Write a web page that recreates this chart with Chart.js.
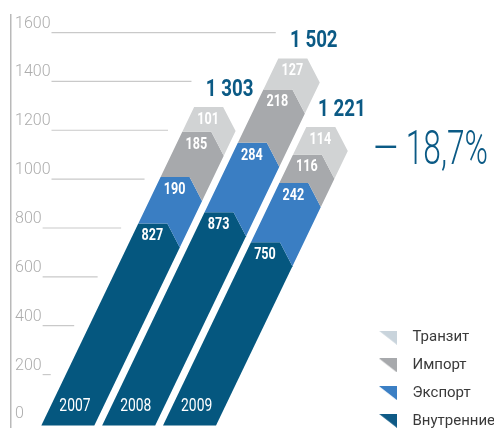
<!DOCTYPE html>
<html lang="ru">
<head>
<meta charset="UTF-8">
<title>Грузооборот 2007–2009</title>
<script src="https://cdn.jsdelivr.net/npm/chart.js"></script>
<style>
  html, body { margin: 0; padding: 0; background: #fff; overflow: hidden; }
  #wrap { width: 494px; height: 441px; }
</style>
</head>
<body>
<div id="wrap"><canvas id="chart"></canvas></div>
<script>
// данные
const years = [2007, 2008, 2009];
const domestic = [827, 873, 750];
const exportVals = [190, 284, 242];
const importVals = [185, 218, 116];
const transit = [101, 127, 114];
const totals = [1303, 1502, 1221];
const yTicks = [0, 200, 400, 600, 800, 1000, 1200, 1400, 1600];
const change = '— 18,7%';

const FONT = 'Roboto, sans-serif';
const SLANT = 0.48;   // наклон лент
const NOTCH = 24;     // глубина уголка сверху справа
Chart.defaults.font.family = FONT;

// треугольник для легенды, справа прозрачный запас
function tri(color) {
    const c = document.createElement('canvas');
    c.width = 33; c.height = 14;
    const g = c.getContext('2d');
    g.fillStyle = color;
    g.beginPath();
    g.moveTo(0, 0); g.lineTo(18, 0); g.lineTo(18, 14); g.closePath();
    g.fill();
    return c;
}

const fmt = v => String(v).replace(/\B(?=(\d{3})+(?!\d))/g, ' ');

// сжатый по ширине текст (узкого шрифта нет)
function narrow(ctx, s, x, y, font, sx) {
    ctx.save();
    ctx.translate(x, y);
    ctx.scale(sx, 1);
    ctx.font = font;
    ctx.fillText(s, 0, 0);
    ctx.restore();
}

const ribbons = {
    id: 'ribbons',
    beforeDatasetsDraw(chart) {
        const { ctx, scales: { y } } = chart;
        const y0 = y.getPixelForValue(0);
        const sk = (px, py) => [px + SLANT * (y0 - py), py];
        const first = chart.getDatasetMeta(0).data;
        const last = chart.getDatasetMeta(chart.data.datasets.length - 1).data;
        const topTick = yTicks[yTicks.length - 1];

        ctx.save();

        // подчёркивания у подписей оси (у нуля нет)
        ctx.font = '300 16px ' + FONT;
        ctx.strokeStyle = '#c9c9c9';
        ctx.lineWidth = 1.2;
        const lx = chart.chartArea.left + 4;
        yTicks.forEach(v => {
            if (v <= 0) return;
            const py = y.getPixelForValue(v) - 2;
            const ref = v === topTick ? first[1] : first[0];
            const end = sk(ref.x - ref.width / 2, py)[0] - 15;
            const start = lx + ctx.measureText(String(v)).width + 1;
            if (end <= start) return;
            ctx.beginPath();
            ctx.moveTo(start, py); ctx.lineTo(end, py);
            ctx.stroke();
        });

        // ленты
        chart.data.datasets.forEach((ds, i) => {
            chart.getDatasetMeta(i).data.forEach(bar => {
                const { x, y: top, base, width } = bar.getProps(['x', 'y', 'base', 'width'], true);
                const l = x - width / 2, r = x + width / 2;
                const pts = [[l, top], [r - NOTCH, top], [r, top + NOTCH]];
                if (i === 0) pts.push([r, base], [l, base]);
                else pts.push([r, base + NOTCH], [r - NOTCH, base], [l, base]);
                ctx.beginPath();
                pts.map(p => sk(p[0], p[1])).forEach(([px, py], k) => k ? ctx.lineTo(px, py) : ctx.moveTo(px, py));
                ctx.closePath();
                ctx.fillStyle = ds.backgroundColor;
                ctx.fill();
            });
        });

        // значения сегментов
        ctx.fillStyle = '#fff';
        ctx.textAlign = 'center';
        ctx.textBaseline = 'middle';
        chart.data.datasets.forEach((ds, i) => {
            chart.getDatasetMeta(i).data.forEach((bar, j) => {
                const l = bar.x - bar.width / 2;
                const yl = bar.y + 12.5;
                narrow(ctx, String(ds.data[j]), l + SLANT * (y0 - yl) + 20, yl, 'bold 17px ' + FONT, 0.74);
            });
        });

        // годы внизу лент
        first.forEach((bar, j) => {
            const yl = y0 - 19;
            narrow(ctx, String(years[j]), bar.x + SLANT * (y0 - yl) - 2, yl, '18px ' + FONT, 0.77);
        });

        // итоги над лентами
        ctx.fillStyle = '#0b5a85';
        last.forEach((bar, j) => {
            const l = bar.x - bar.width / 2;
            const fl = l + SLANT * (y0 - bar.y);
            narrow(ctx, fmt(totals[j]), fl + (bar.width - NOTCH) / 2 + 21, bar.y - 17, 'bold 24px ' + FONT, 0.78);
        });

        // изменение
        const b = last[last.length - 1];
        ctx.textAlign = 'right';
        ctx.textBaseline = 'alphabetic';
        narrow(ctx, change, chart.width - 6, b.y + 37, '300 48px ' + FONT, 0.66);

        ctx.restore();
        return false;
    }
};

const ds = (label, data, color, legendColor) => ({
    label, data,
    backgroundColor: color,
    pointStyle: tri(legendColor),
    barThickness: 53
});

new Chart(document.getElementById('chart'), {
    type: 'bar',
    data: {
        labels: years,
        datasets: [
            ds('Внутренние', domestic, '#05577f', '#0e5a86'),
            ds('Экспорт', exportVals, '#3a7ec3', '#3b7fc4'),
            ds('Импорт', importVals, '#a7a9ac', '#a7a9ac'),
            ds('Транзит', transit, '#d1d3d4', '#c9d4dc')
        ]
    },
    options: {
        responsive: true,
        maintainAspectRatio: false,
        animation: false,
        layout: { padding: { top: 15, bottom: 0, left: 11, right: 0 } },
        scales: {
            x: { type: 'linear', display: false, offset: false, stacked: true, min: 2006.066, max: 2012.02 },
            y: {
                stacked: true, min: -8, max: 1680,
                afterFit: s => { s.width = 0; },
                afterBuildTicks: s => { s.ticks = yTicks.map(v => ({ value: v })); },
                border: { display: true, color: '#b9b9b9', width: 1.5 },
                grid: { display: false, drawTicks: false },
                ticks: {
                    mirror: true, padding: 4, labelOffset: -11, autoSkip: false,
                    color: '#adadad', font: { size: 16, weight: 300 },
                    callback: v => String(v)
                }
            }
        },
        plugins: {
            tooltip: { enabled: false },
            legend: {
                position: 'right', align: 'end', reverse: true,
                labels: {
                    usePointStyle: true, pointStyleWidth: 19, padding: 12.7,
                    color: '#3a3a3a', font: { size: 15 }
                }
            }
        }
    },
    plugins: [ribbons]
});
</script>
</body>
</html>
